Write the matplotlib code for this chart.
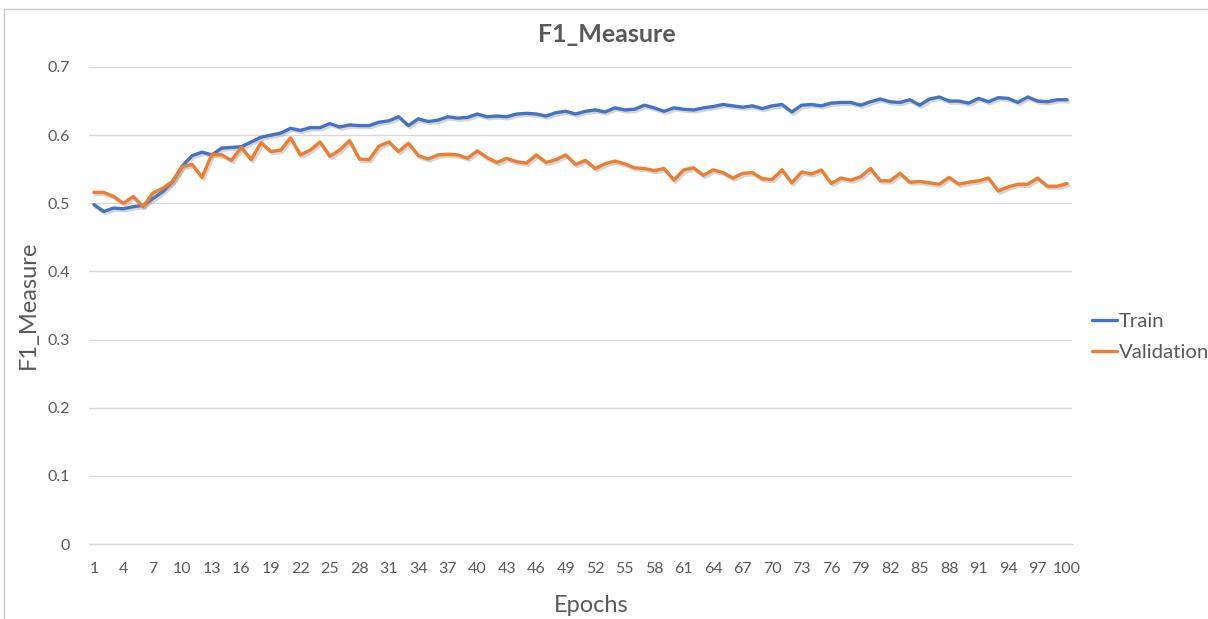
import matplotlib
matplotlib.use("Agg")
import matplotlib.pyplot as plt
import matplotlib.patheffects as pe
from matplotlib.lines import Line2D

plt.rcParams['font.family'] = ['Lato', 'DejaVu Sans']

epochs = list(range(1, 101))

train = [
    0.498, 0.488, 0.493, 0.492, 0.495, 0.497, 0.507, 0.517, 0.532, 0.555,
    0.570, 0.575, 0.571, 0.581, 0.582, 0.583, 0.590, 0.597, 0.600, 0.603,
    0.610, 0.607, 0.611, 0.611, 0.617, 0.612, 0.615, 0.614, 0.614, 0.619,
    0.621, 0.627, 0.614, 0.624, 0.620, 0.622, 0.627, 0.625, 0.626, 0.631,
    0.627, 0.628, 0.627, 0.631, 0.632, 0.631, 0.628, 0.633, 0.635, 0.631,
    0.635, 0.637, 0.634, 0.640, 0.637, 0.638, 0.644, 0.640, 0.635, 0.640,
    0.638, 0.637, 0.640, 0.642, 0.645, 0.643, 0.641, 0.643, 0.639, 0.643,
    0.645, 0.634, 0.644, 0.645, 0.643, 0.647, 0.648, 0.648, 0.644, 0.649,
    0.653, 0.649, 0.648, 0.652, 0.644, 0.653, 0.656, 0.650, 0.650, 0.647,
    0.654, 0.649, 0.655, 0.654, 0.648, 0.656, 0.650, 0.649, 0.652, 0.652,
]

validation = [
    0.516, 0.516, 0.510, 0.500, 0.510, 0.495, 0.515, 0.522, 0.532, 0.554,
    0.557, 0.538, 0.572, 0.571, 0.563, 0.582, 0.564, 0.589, 0.576, 0.578,
    0.596, 0.571, 0.578, 0.590, 0.569, 0.578, 0.592, 0.565, 0.564, 0.584,
    0.590, 0.576, 0.588, 0.570, 0.565, 0.571, 0.572, 0.571, 0.566, 0.577,
    0.567, 0.560, 0.566, 0.561, 0.559, 0.571, 0.560, 0.564, 0.571, 0.557,
    0.563, 0.551, 0.558, 0.562, 0.558, 0.552, 0.551, 0.548, 0.551, 0.534,
    0.549, 0.552, 0.541, 0.549, 0.545, 0.537, 0.544, 0.545, 0.536, 0.535,
    0.549, 0.530, 0.546, 0.543, 0.549, 0.529, 0.537, 0.534, 0.539, 0.551,
    0.533, 0.533, 0.544, 0.531, 0.532, 0.530, 0.528, 0.538, 0.528, 0.531,
    0.533, 0.537, 0.518, 0.524, 0.528, 0.528, 0.537, 0.525, 0.525, 0.529,
]

yticks = [0, 0.1, 0.2, 0.3, 0.4, 0.5, 0.6, 0.7]
ytick_labels = ['0', '0.1', '0.2', '0.3', '0.4', '0.5', '0.6', '0.7']
xticks = list(range(1, 101, 3))

W, H = 1208, 619
fig = plt.figure(figsize=(W / 100, H / 100), dpi=100)
fig.patch.set_facecolor('white')

left, right, top, bottom = 89, 1072, 67, 544
ax = fig.add_axes([left / W, 1 - bottom / H, (right - left) / W, (bottom - top) / H])

text_color = '#595959'
grid_color = '#d9d9d9'

shadow = [pe.SimpleLineShadow(offset=(1.2, -1.5), shadow_color='#888888', alpha=0.35), pe.Normal()]
l1, = ax.plot(epochs, train, color='#4472C4', lw=2.4, solid_capstyle='round',
              solid_joinstyle='round', path_effects=shadow, label='Train', zorder=3)
l2, = ax.plot(epochs, validation, color='#ED7D31', lw=2.4, solid_capstyle='round',
              solid_joinstyle='round', path_effects=shadow, label='Validation', zorder=3)

ax.set_xlim(0.5, 100.5)
ax.set_ylim(0, 0.7)
ax.set_yticks(yticks)
ax.set_yticklabels(ytick_labels)
ax.set_xticks(xticks)
ax.set_xticklabels([str(x) for x in xticks])
ax.grid(axis='y', color=grid_color, lw=1)
ax.set_axisbelow(True)
for s in ['top', 'right', 'left']:
    ax.spines[s].set_visible(False)
ax.spines['bottom'].set_color(grid_color)
ax.spines['bottom'].set_linewidth(1)
ax.tick_params(axis='both', length=0, labelsize=11.5, colors=text_color)
ax.tick_params(axis='y', pad=14)
ax.tick_params(axis='x', pad=13)

fig.text(607 / W, 1 - 34 / H, 'F1_Measure', ha='center', va='center',
         fontsize=18, fontweight='bold', color=text_color)
fig.text(28 / W, 1 - 305 / H, 'F1_Measure', ha='center', va='center', rotation=90,
         fontsize=17, color=text_color)
fig.text(591 / W, 1 - 605 / H, 'Epochs', ha='center', va='center',
         fontsize=17, color=text_color)

leg = fig.legend(handles=[l1, l2], labels=['Train', 'Validation'],
                 loc='center left', bbox_to_anchor=(1092 / W, 1 - 337 / H),
                 frameon=False, fontsize=14.7, handlelength=1.2, handletextpad=0.1,
                 labelspacing=0.65, borderaxespad=0, borderpad=0)
for t in leg.get_texts():
    t.set_color(text_color)
for h in leg.legend_handles:
    h.set_path_effects([])

# chart area border (visible on left and top)
fig.add_artist(Line2D([4 / W, 4 / W], [0, 1 - 9 / H], transform=fig.transFigure,
                      color='#c8c8c8', lw=1))
fig.add_artist(Line2D([4 / W, 1], [1 - 9 / H, 1 - 9 / H], transform=fig.transFigure,
                      color='#c8c8c8', lw=1))

fig.savefig('out.png', dpi=100)
